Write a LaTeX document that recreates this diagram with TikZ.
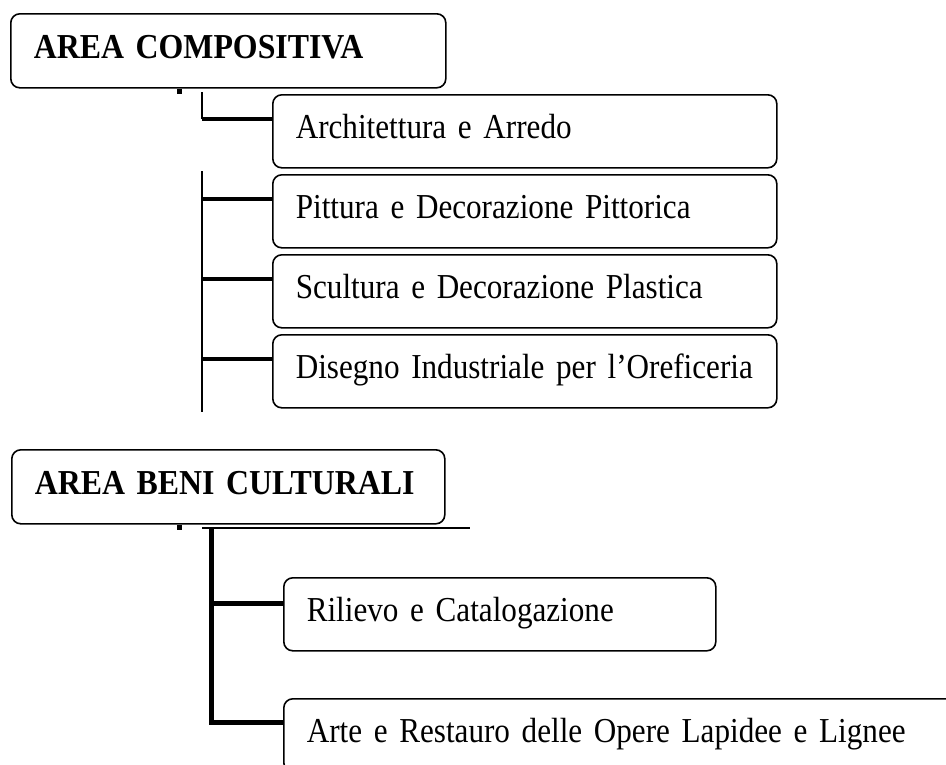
\documentclass[tikz,border=0pt]{standalone}
\usepackage{fontspec}
\setmainfont{Liberation Serif}[FakeStretch=0.89, BoldFeatures={FakeStretch=0.91}]
\usetikzlibrary{positioning}
\newcommand\branchfont{\fontsize{35}{40}\selectfont\spaceskip 6.5pt\relax}
\newcommand\areafont{\fontsize{35}{40}\selectfont\bfseries\spaceskip 7pt\relax}

\begin{document}
\begin{tikzpicture}[x=1pt, y=-1pt, line join=miter]
  % styles
  \tikzset{
    box/.style={draw, line width=1.6pt, rounded corners=9pt, anchor=north west,
      align=left, inner xsep=23pt, inner ysep=0pt, minimum height=73pt,
      text height=23pt, text depth=8pt, font=\branchfont},
    areabox/.style={box, minimum height=74pt, font=\areafont},
    trunk/.style={line width=2pt},
    twig/.style={line width=4pt},
    heavy/.style={line width=5pt},
    stub/.style={line width=5pt},
    rule/.style={line width=1.5pt}
  }

  \useasboundingbox (0,0) rectangle (946,764);
  \clip (0,0) rectangle (946,764);

  % ----- area compositiva -----
  \node[areabox, text width=389pt] (comp) at (10,13) {AREA COMPOSITIVA};
  \node[box, text width=458pt] (arch) at (272,94) {Architettura e Arredo};
  \node[box, text width=458pt, below=5.4pt of arch] (pitt) {Pittura e Decorazione Pittorica};
  \node[box, text width=458pt, below=5.4pt of pitt] (scul) {Scultura e Decorazione Plastica};
  \node[box, text width=458pt, below=5.4pt of scul] (dise) {Disegno Industriale per l’Oreficeria};

  % connectors (first group)
  \coordinate (stubA) at ([xshift=169pt]comp.south west);
  \draw[stub] (stubA) -- ++(0,5);
  \coordinate (topA) at (202,92);
  \coordinate (topB) at (202,171);
  \coordinate (endB) at (202,412);
  \foreach \n in {arch,pitt,scul,dise}
    \coordinate (j\n) at ([yshift=12pt]\n.west);
  \draw[trunk] (topA) -- (topA |- jarch);
  \draw[trunk] (topB) -- (endB);
  \foreach \n in {arch,pitt,scul,dise}
    \draw[twig] (j\n) -- (topA |- j\n);

  % ----- area beni culturali -----
  \node[areabox, text width=387pt] (beni) at (11,449) {AREA BENI CULTURALI};
  \node[box, text width=386pt] (rili) at (283,577) {Rilievo e Catalogazione};
  \node[box, text width=654pt] (arte) at (283,698) {Arte e Restauro delle Opere Lapidee e Lignee};

  % connectors (second group)
  \coordinate (stubB) at ([xshift=168pt]beni.south west);
  \draw[stub] (stubB) -- ++(0,5);
  \coordinate (barL) at (202,528);
  \coordinate (barR) at (470,528);
  \draw[rule] (barL) -- (barR);
  \coordinate (topC) at (211,529);
  \coordinate (jrili) at ([yshift=11pt]rili.west);
  \coordinate (jarte) at ([yshift=13pt]arte.west);
  \draw[heavy] (topC) |- (jarte);
  \draw[heavy] (topC |- jrili) -- (jrili);
\end{tikzpicture}
\end{document}
